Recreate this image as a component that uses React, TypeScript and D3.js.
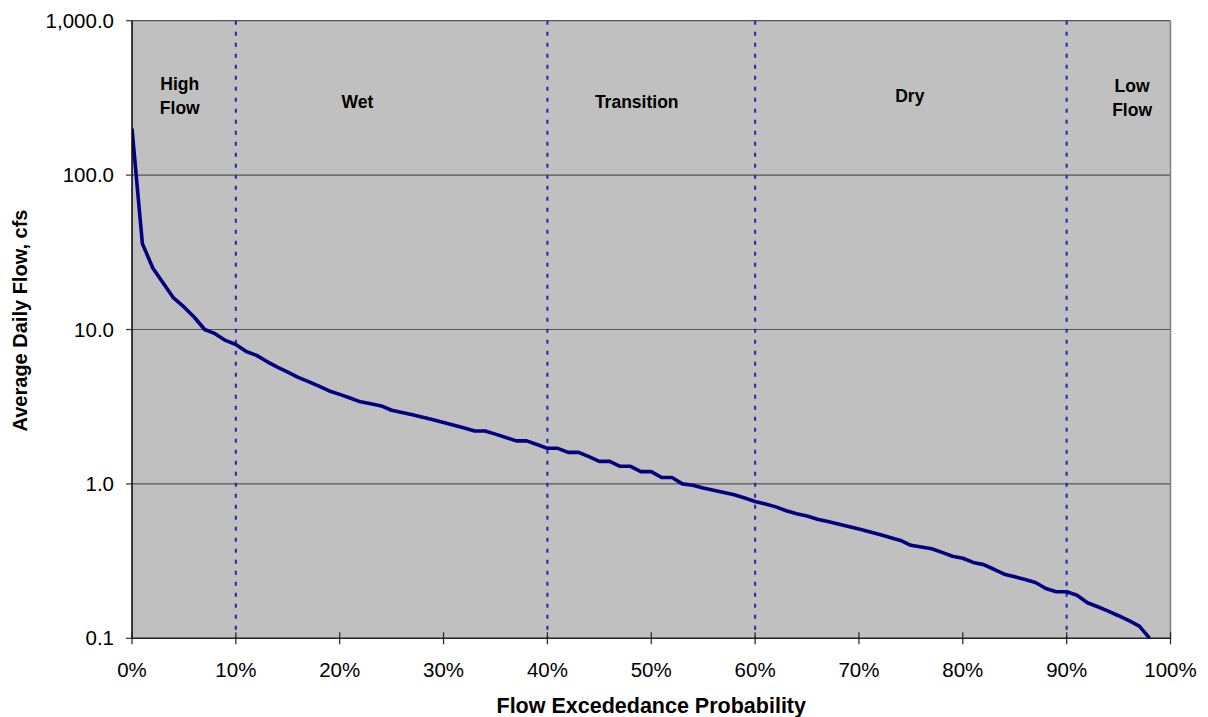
import React from 'react';
import { scaleLinear, scaleLog, line, format } from 'd3';

// flow duration curve values (percent exceedance / cfs)
const exceedance = [
	0, 1, 2, 3, 4, 5, 6, 7, 8, 9,
	10, 11, 12, 13, 14, 15, 16, 17, 18, 19,
	20, 21, 22, 23, 24, 25, 26, 27, 28, 29,
	30, 31, 32, 33, 34, 35, 36, 37, 38, 39,
	40, 41, 42, 43, 44, 45, 46, 47, 48, 49,
	50, 51, 52, 53, 54, 55, 56, 57, 58, 59,
	60, 61, 62, 63, 64, 65, 66, 67, 68, 69,
	70, 71, 72, 73, 74, 75, 76, 77, 78, 79,
	80, 81, 82, 83, 84, 85, 86, 87, 88, 89,
	90, 91, 92, 93, 94, 95, 96, 97, 98
];
const flow = [
	200, 36, 25, 20, 16, 14, 12, 10, 9.4, 8.5,
	8.0, 7.2, 6.8, 6.2, 5.7, 5.3, 4.9, 4.6, 4.3, 4.0,
	3.8, 3.6, 3.4, 3.3, 3.2, 3.0, 2.9, 2.8, 2.7, 2.6,
	2.5, 2.4, 2.3, 2.2, 2.2, 2.1, 2.0, 1.9, 1.9, 1.8,
	1.7, 1.7, 1.6, 1.6, 1.5, 1.4, 1.4, 1.3, 1.3, 1.2,
	1.2, 1.1, 1.1, 1.0, 0.98, 0.94, 0.91, 0.88, 0.85, 0.81,
	0.77, 0.74, 0.71, 0.67, 0.64, 0.62, 0.59, 0.57, 0.55, 0.53,
	0.51, 0.49, 0.47, 0.45, 0.43, 0.40, 0.39, 0.38, 0.36, 0.34,
	0.33, 0.31, 0.30, 0.28, 0.26, 0.25, 0.24, 0.23, 0.21, 0.20,
	0.20, 0.19, 0.17, 0.16, 0.15, 0.14, 0.13, 0.12, 0.10
];

const xTicks = [0, 10, 20, 30, 40, 50, 60, 70, 80, 90, 100];
const yTicks = [0.1, 1, 10, 100, 1000];
const zoneBreaks = [10, 40, 60, 90];
// zone labels: center (% exceedance), first baseline (cfs), lines
const zoneNames = [['High', 'Flow'], ['Wet'], ['Transition'], ['Dry'], ['Low', 'Flow']];
const zoneCenters = [4.6, 21.7, 48.6, 74.9, 96.3];
const zoneBaselines = [356, 272, 272, 297, 345];

export default function App() {
	const width = 1208;
	const height = 717;
	const margin = { left: 132, top: 20.7, right: 37.5, bottom: 78.7 };
	const font = 'Arial, "Liberation Sans", sans-serif';

	const x = scaleLinear()
		.domain([0, 100])
		.range([margin.left, width - margin.right]);

	const y = scaleLog()
		.domain([0.1, 1000])
		.range([height - margin.bottom, margin.top]);

	const data = exceedance.map((p, i) => ({ p, q: flow[i] }));
	const dLine = line<{ p: number, q: number }>()
		.x(d => x(d.p))
		.y(d => y(d.q));

	const fmtY = format(',.1f');
	const x0 = margin.left, x1 = width - margin.right;
	const y0 = height - margin.bottom, y1 = margin.top;

	return (
		<svg width={width} height={height} style={{ position: 'absolute', left: 0, top: 0 }} fontFamily={font}>
			<rect x={0} y={0} width={width} height={height} fill="#ffffff" />
			<defs>
				<clipPath id="plot-clip">
					<rect x={x0} y={y1} width={x1 - x0} height={y0 - y1} />
				</clipPath>
			</defs>
			{/* plot background */}
			<rect x={x0} y={y1} width={x1 - x0} height={y0 - y1} fill="#c0c0c0" />

			{/* horizontal gridlines */}
			{yTicks.filter(t => t > 0.1).map(t => (
				<line key={t} x1={x0} x2={x1} y1={y(t)} y2={y(t)} stroke="#555555" strokeWidth={1.2} />
			))}
			<line x1={x1} x2={x1} y1={y1} y2={y0} stroke="#808080" strokeWidth={1.5} />

			{/* zone boundaries */}
			{zoneBreaks.map(b => (
				<line key={b} x1={x(b)} x2={x(b)} y1={y1} y2={y0}
					stroke="#3030a8" strokeWidth={2.2} strokeDasharray="4,7" />
			))}

			{/* zone labels */}
			{zoneNames.map((lines, i) => (
				<text key={i} x={x(zoneCenters[i])} y={y(zoneBaselines[i])} textAnchor="middle"
					fontSize={17.5} fontWeight="bold" fill="#000">
					{lines.map((s, j) => (
						<tspan key={j} x={x(zoneCenters[i])} dy={j === 0 ? 0 : 24}>{s}</tspan>
					))}
				</text>
			))}

			{/* curve */}
			<path d={dLine(data) || ''} fill="none" stroke="#000080" strokeWidth={3.6}
				strokeLinejoin="round" clipPath="url(#plot-clip)" />

			{/* y axis */}
			<line x1={x0} x2={x0} y1={y1} y2={y0} stroke="#000" strokeWidth={1.5} />
			{yTicks.map(t => (
				<g key={t}>
					<line x1={x0 - 6} x2={x0} y1={y(t)} y2={y(t)} stroke="#333" strokeWidth={1.2} />
					<text x={x0 - 18} y={y(t)} dy="0.35em" textAnchor="end" fontSize={20.5} fill="#000">{fmtY(t)}</text>
				</g>
			))}

			{/* x axis */}
			<line x1={x0} x2={x1} y1={y0} y2={y0} stroke="#222" strokeWidth={1.5} />
			{xTicks.map(t => (
				<g key={t}>
					<line x1={x(t)} x2={x(t)} y1={y0 - 6} y2={y0 + 6} stroke="#222" strokeWidth={1.2} />
					<text x={x(t)} y={y0 + 39} textAnchor="middle" fontSize={20.5} fill="#000">{t}%</text>
				</g>
			))}

			{/* axis titles */}
			<text x={(x0 + x1) / 2} y={713} textAnchor="middle" fontSize={21.5} fontWeight="bold">
				Flow Excededance Probability
			</text>
			<text transform={`translate(27,${(y0 + y1) / 2 - 9}) rotate(-90)`} textAnchor="middle"
				fontSize={20} fontWeight="bold">
				Average Daily Flow, cfs
			</text>
		</svg>
	);
}
